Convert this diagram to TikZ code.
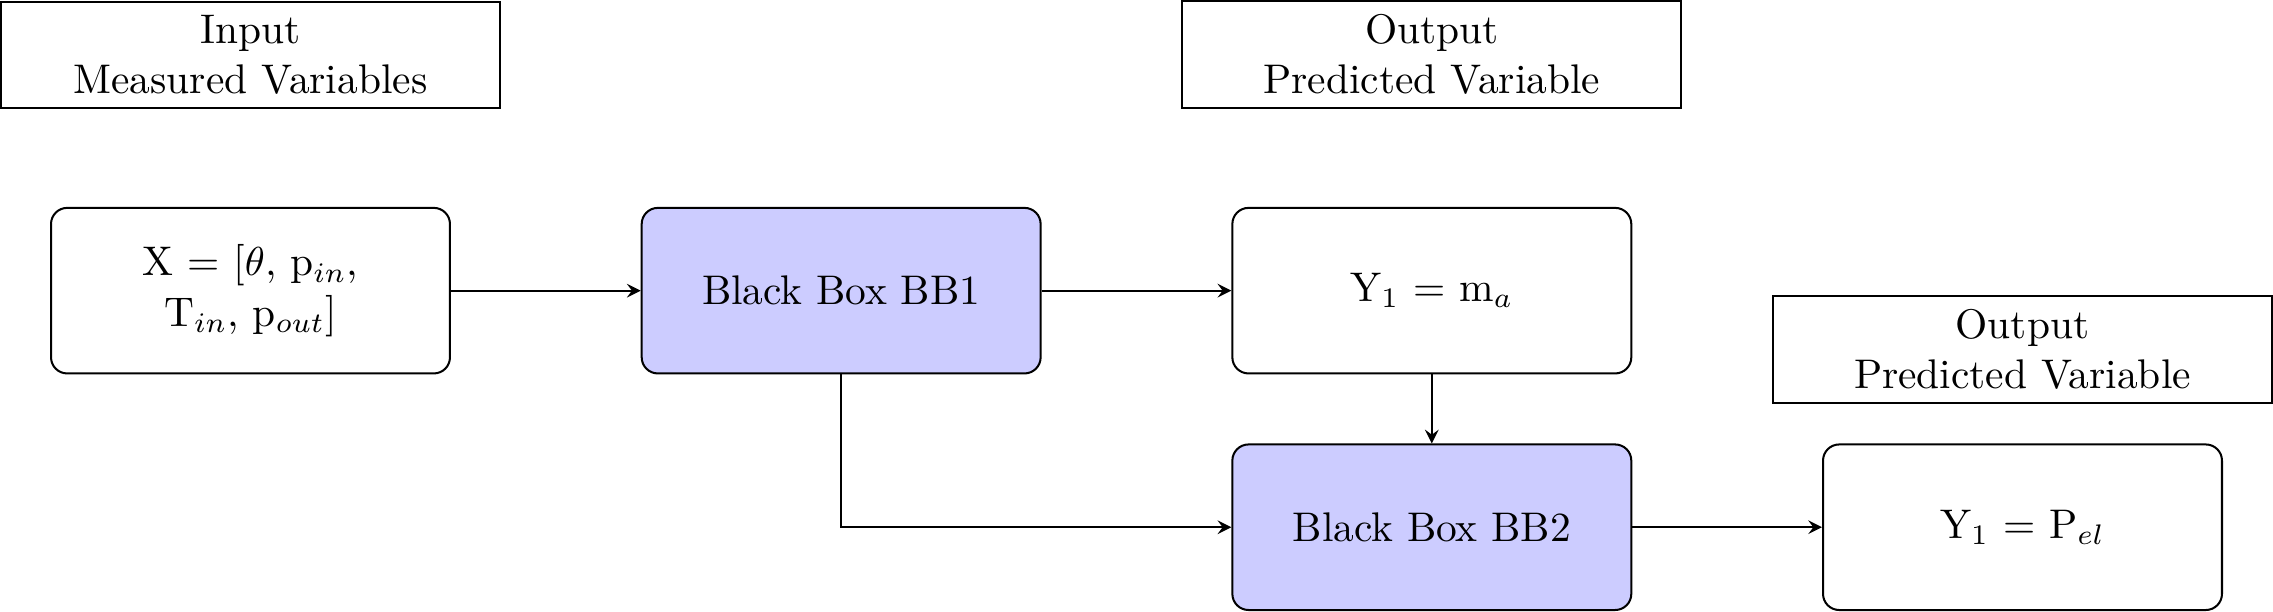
\documentclass[tikz,border=0pt]{standalone}
\usepackage{amsmath,amssymb}
\usepackage{fontspec}
\usepackage{xcolor}
\usepackage{tikz}
\usetikzlibrary{positioning,arrows}

\begin{document}
\begin{tikzpicture}[
    line width=0.5pt,
    node distance=1.65cm,
    every node/.style={align=center, font=\fontsize{10.25}{12.4}\selectfont},
    block/.style={draw, rounded corners=4pt, minimum width=3.47cm, minimum height=1.44cm},
    bbox/.style={block, fill=blue!20},
    infobox/.style={draw, minimum width=4.34cm, minimum height=0.92cm},
    link/.style={-stealth, draw}
]
\node[block] (xin) {X = [$\theta$, p$_{in}$,\\ T$_{in}$, p$_{out}$]};
\node[bbox, right=of xin] (bb1) {Black Box BB1};
\node[block, right=of bb1] (yma) {Y$_1$ = m$_a$};
\node[bbox, below=0.6cm of yma] (bb2) {Black Box BB2};
\node[block, right=of bb2] (ypel) {Y$_1$ = P$_{el}$};

\node[infobox, above=0.85cm of xin] (inlab) {Input\\ Measured Variables};
\node[infobox, above=0.85cm of yma] (outlab1) {Output\\ Predicted Variable};
\node[infobox, above=0.34cm of ypel] (outlab2) {Output\\ Predicted Variable};

\draw[link] (xin) -- (bb1);
\draw[link] (bb1) -- (yma);
\draw[link] (yma) -- (bb2);
\draw[link] (bb1.south) |- (bb2.west);
\draw[link] (bb2) -- (ypel);
\end{tikzpicture}
\end{document}
